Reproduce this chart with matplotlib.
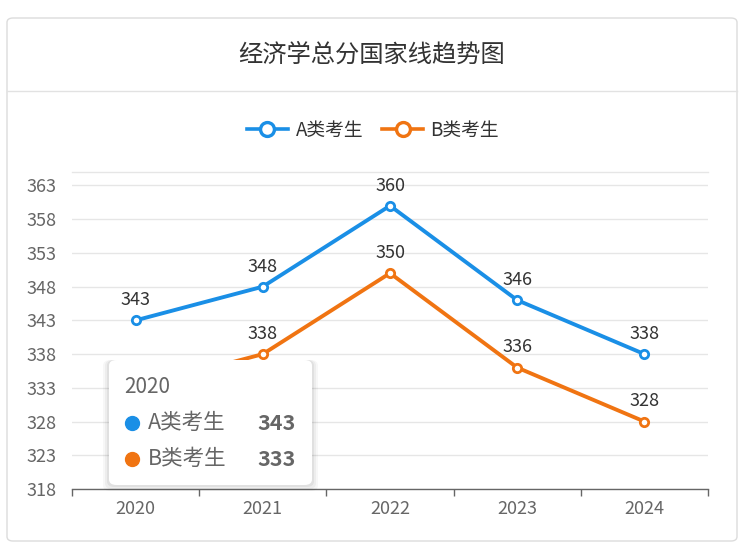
import matplotlib
matplotlib.use("Agg")
import matplotlib.pyplot as plt
from matplotlib.patches import FancyBboxPatch
from matplotlib.lines import Line2D
import numpy as np

plt.rcParams['font.family'] = ['Noto Sans CJK SC', 'DejaVu Sans']

title = "经济学总分国家线趋势图"
years = ["2020", "2021", "2022", "2023", "2024"]
series_names = ["A类考生", "B类考生"]
a_vals = [343, 348, 360, 346, 338]
b_vals = [333, 338, 350, 336, 328]
y_ticks = [318, 323, 328, 333, 338, 343, 348, 353, 358, 363]
tooltip_idx = 0

colors = ["#1a8fe6", "#f07412"]
W, H = 753, 556
fig = plt.figure(figsize=(W / 100, H / 100), dpi=100)
fig.patch.set_facecolor("white")

def fx(px):
    return px / W

def fy(py):
    return 1 - py / H

# card
card = FancyBboxPatch((fx(7), fy(541)), fx(737) - fx(7), fy(18) - fy(541),
                      boxstyle="round,pad=0,rounding_size=0.008",
                      transform=fig.transFigure, facecolor="white",
                      edgecolor="#dcdcdc", linewidth=1.0, zorder=-5)
fig.add_artist(card)
fig.add_artist(Line2D([fx(7), fx(737)], [fy(91), fy(91)], transform=fig.transFigure,
                      color="#e2e2e2", linewidth=1.0, zorder=-4))
fig.text(fx(372), fy(55), title, ha="center", va="center", fontsize=17.5, color="#333333")

ax = fig.add_axes([fx(72), fy(489), fx(708) - fx(72), fy(172) - fy(489)])
ax.set_facecolor("none")
x = np.arange(len(years))
for vals, c, name in zip([a_vals, b_vals], colors, series_names):
    ax.plot(x, vals, color=c, linewidth=2.8, marker="o", markersize=6,
            markerfacecolor="white", markeredgecolor=c, markeredgewidth=2.0,
            label=name, zorder=3, solid_capstyle="round")
    for xi, v in zip(x, vals):
        ax.annotate(str(v), (xi, v), xytext=(0, 8), textcoords="offset points",
                    ha="center", va="bottom", fontsize=13, color="#333333", zorder=4)

ax.set_xlim(-0.5, len(years) - 0.5)
ax.set_ylim(318, 365)
ax.set_yticks(y_ticks)
ax.set_yticklabels([str(t) for t in y_ticks])
ax.set_xticks(x)
ax.set_xticklabels(years)
ax.set_xticks(np.arange(len(years) + 1) - 0.5, minor=True)
ax.tick_params(axis="x", which="major", length=0, pad=8, labelsize=13, labelcolor="#666666")
ax.tick_params(axis="x", which="minor", length=5, width=1, color="#666666", direction="out")
ax.tick_params(axis="y", length=0, pad=11, labelsize=13, labelcolor="#666666")
ax.grid(axis="y", color="#e6e6e6", linewidth=1)
ax.set_axisbelow(True)
for s in ["left", "right"]:
    ax.spines[s].set_visible(False)
ax.spines["top"].set_color("#e6e6e6")
ax.spines["top"].set_linewidth(1)
ax.spines["bottom"].set_color("#666666")
ax.spines["bottom"].set_linewidth(1)

# legend
handles = [Line2D([0], [0], color=c, linewidth=2.6, marker="o", markersize=10,
                  markerfacecolor="white", markeredgecolor=c, markeredgewidth=2.4)
           for c in colors]
fig.legend(handles, series_names, loc="center", bbox_to_anchor=(fx(373), fy(130)),
           ncol=2, frameon=False, fontsize=13.5, labelcolor="#333333",
           handlelength=2.2, handletextpad=0.4, columnspacing=1.0)

# tooltip
for i, (d, a) in enumerate([(6, 0.03), (4, 0.04), (2, 0.05)]):
    sh = FancyBboxPatch((fx(109 - d), fy(485 + d)), fx(312 + 2 * d) - fx(109), fy(360) - fy(485 + d),
                        boxstyle="round,pad=0,rounding_size=0.01", transform=fig.transFigure,
                        facecolor="black", edgecolor="none", alpha=a, zorder=9)
    fig.add_artist(sh)
tip = FancyBboxPatch((fx(109), fy(485)), fx(312) - fx(109), fy(360) - fy(485),
                     boxstyle="round,pad=0,rounding_size=0.01", transform=fig.transFigure,
                     facecolor="white", edgecolor="none", zorder=10)
fig.add_artist(tip)
fig.text(fx(124), fy(387), years[tooltip_idx], ha="left", va="center", fontsize=15,
         color="#666666", zorder=11)
for j, (vals, c, name) in enumerate(zip([a_vals, b_vals], colors, series_names)):
    yy = fy(423 + 36 * j)
    fig.add_artist(Line2D([fx(132)], [yy], transform=fig.transFigure, marker="o",
                          markersize=10, color=c, linestyle="none", zorder=11))
    fig.text(fx(148), yy, name, ha="left", va="center", fontsize=15.5, color="#666666", zorder=11)
    fig.text(fx(296), yy, str(vals[tooltip_idx]), ha="right", va="center", fontsize=15.5,
             color="#666666", fontweight="bold", zorder=11)

fig.savefig("out.png", dpi=100, facecolor="white")
